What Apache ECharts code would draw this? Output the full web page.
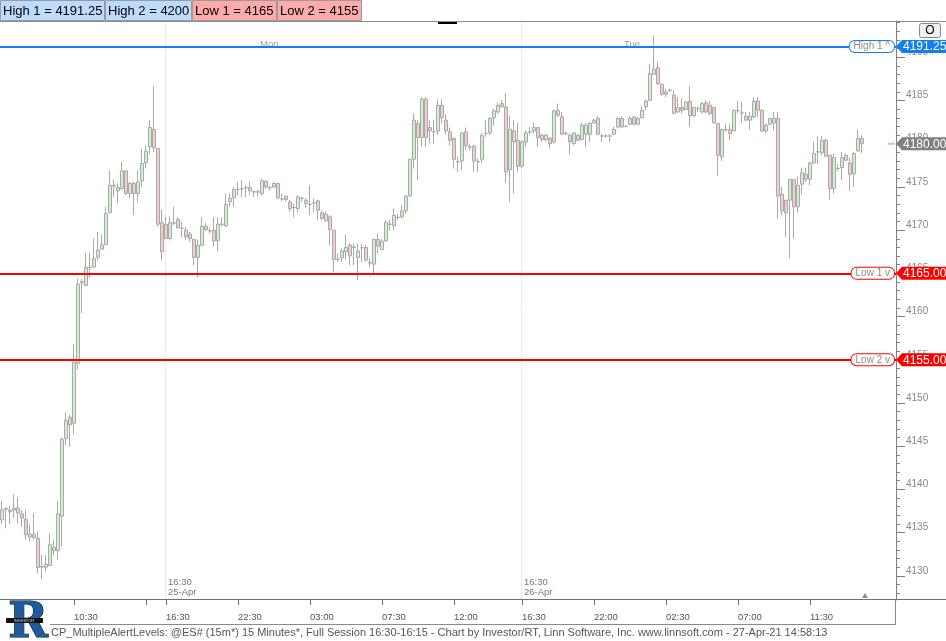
<!DOCTYPE html>
<html><head><meta charset="utf-8">
<script src="https://cdn.jsdelivr.net/npm/echarts@6/dist/echarts.min.js"></script>
<style>html,body{margin:0;padding:0;background:#fff}#c{width:946px;height:641px}</style>
</head><body><div id="c"></div>
<script>
// ---- data (15-minute bars, ES) ----
const opens = [4136.47,4137.70,4137.60,4137.60,4137.83,4137.17,4136.55,4134.47,4134.80,4134.36,
4131.00,4131.00,4131.20,4133.30,4132.90,4136.90,4145.90,4148.35,4147.65,4154.60,
4163.90,4163.60,4165.65,4165.75,4166.85,4167.80,4168.34,4172.04,4175.09,4174.93,
4174.82,4176.86,4174.24,4175.40,4174.24,4175.70,4177.78,4179.63,4181.64,4179.44,
4170.85,4170.65,4169.03,4170.80,4171.23,4170.20,4170.00,4169.53,4168.92,4166.84,
4168.26,4170.46,4169.92,4170.00,4168.76,4170.65,4170.50,4173.30,4173.74,4174.70,
4174.77,4174.90,4174.93,4174.40,4174.45,4174.24,4175.66,4174.93,4175.00,4175.40,
4173.60,4173.93,4173.27,4172.62,4172.50,4173.66,4173.47,4172.97,4173.15,4173.39,
4172.00,4171.08,4171.54,4170.00,4166.65,4166.80,4167.49,4168.26,4168.00,4166.84,
4167.97,4167.99,4166.22,4166.07,4168.92,4167.76,4168.76,4170.65,4170.50,4171.46,
4171.54,4172.23,4173.97,4178.20,4182.33,4180.71,4185.14,4181.87,4181.37,4181.48,
4184.45,4182.72,4181.37,4180.60,4177.90,4178.01,4181.37,4179.63,4179.71,4177.90,
4178.20,4181.17,4181.25,4182.99,4183.68,4184.64,4184.26,4177.00,4181.48,4180.40,
4177.40,4180.21,4181.35,4181.48,4181.87,4180.98,4180.48,4180.60,4180.21,4183.87,
4183.10,4181.17,4180.98,4180.02,4180.98,4180.48,4181.10,4181.10,4182.41,4182.91,
4180.88,4180.90,4180.88,4181.10,4181.94,4182.91,4182.02,4182.25,4183.10,4182.25,
4183.02,4184.26,4185.03,4188.03,4188.80,4186.88,4185.72,4186.18,4185.60,4183.68,
4184.18,4183.95,4184.91,4183.22,4184.06,4183.68,4184.72,4184.45,4184.18,4182.33,
4178.47,4181.64,4181.64,4181.48,4183.80,4183.56,4183.18,4182.72,4183.10,4184.95,
4183.87,4181.48,4182.25,4182.41,4182.91,4174.16,4173.47,4173.47,4175.85,4172.70,
4175.32,4176.47,4175.90,4177.78,4179.05,4178.94,4180.40,4178.67,4174.81,4177.13,
4177.24,4178.67,4177.78,4176.55,4179.17,4180.60];
const closes = [4137.63,4137.80,4137.40,4137.80,4137.25,4136.67,4134.74,4134.82,4134.45,4130.96,
4131.07,4131.35,4133.60,4132.90,4137.17,4145.80,4148.00,4147.46,4154.70,4163.76,
4164.05,4165.70,4165.70,4166.70,4167.70,4168.30,4171.93,4175.20,4175.20,4174.55,
4176.86,4174.24,4175.40,4174.24,4175.59,4177.71,4179.13,4181.87,4179.52,4170.69,
4167.50,4169.03,4170.85,4170.85,4170.27,4170.22,4169.23,4169.03,4166.84,4168.26,
4170.46,4170.07,4169.90,4168.76,4170.69,4170.70,4172.97,4173.66,4174.70,4174.72,
4174.80,4174.92,4174.55,4174.45,4174.40,4175.70,4175.00,4174.90,4175.40,4173.74,
4173.62,4173.54,4172.50,4172.60,4173.85,4173.70,4173.08,4172.95,4173.17,4172.31,
4171.35,4171.81,4170.07,4166.60,4166.62,4167.60,4167.99,4167.03,4168.07,4167.60,
4167.95,4166.53,4166.20,4168.92,4168.15,4168.73,4170.88,4170.70,4171.73,4171.50,
4172.19,4173.93,4178.20,4182.72,4180.71,4185.14,4180.71,4181.48,4181.35,4184.45,
4183.02,4181.48,4180.40,4178.20,4177.92,4181.25,4179.75,4179.60,4178.01,4177.92,
4180.98,4181.20,4182.91,4183.80,4184.45,4184.26,4176.74,4181.64,4180.21,4177.40,
4180.21,4181.25,4181.37,4181.87,4180.71,4180.48,4180.98,4180.02,4183.80,4183.30,
4181.10,4181.20,4180.21,4181.25,4180.40,4182.14,4182.14,4182.33,4182.72,4181.10,
4180.90,4180.88,4180.90,4181.64,4182.91,4181.94,4182.00,4182.91,4182.25,4182.91,
4183.87,4184.95,4188.11,4188.61,4186.95,4185.72,4185.99,4186.20,4183.49,4184.18,
4183.87,4184.83,4183.22,4184.18,4184.08,4184.64,4183.68,4183.49,4182.41,4178.67,
4181.64,4181.60,4181.17,4183.87,4183.82,4183.54,4182.72,4183.18,4184.91,4183.87,
4181.48,4182.14,4182.91,4182.91,4173.97,4172.23,4172.00,4175.85,4172.70,4175.20,
4176.63,4175.90,4177.78,4178.86,4179.07,4180.40,4178.55,4174.81,4178.40,4177.15,
4178.40,4178.09,4176.47,4178.86,4180.60,4180.00];
const lows = [4135.98,4135.50,4136.00,4136.70,4136.10,4135.70,4134.20,4134.00,4134.20,4130.30,
4129.60,4130.50,4131.10,4132.40,4131.85,4133.40,4145.10,4144.90,4146.40,4153.90,
4160.40,4163.50,4164.50,4165.60,4166.50,4167.80,4168.34,4171.93,4173.85,4173.08,
4174.63,4174.05,4173.66,4171.73,4173.27,4175.00,4177.13,4178.80,4179.05,4170.38,
4166.50,4169.00,4168.80,4170.60,4170.20,4169.20,4168.90,4168.70,4165.95,4164.53,
4168.10,4169.90,4169.60,4168.10,4167.50,4170.40,4170.40,4172.70,4172.70,4174.00,
4173.85,4173.80,4174.00,4173.85,4173.90,4174.05,4174.80,4174.60,4174.90,4173.60,
4173.40,4173.30,4172.12,4171.50,4172.10,4173.27,4172.60,4171.73,4172.12,4171.15,
4171.15,4170.96,4168.26,4165.18,4166.30,4166.30,4166.53,4165.95,4165.95,4164.20,
4166.30,4166.40,4165.76,4164.99,4167.30,4167.70,4168.65,4170.00,4170.00,4171.15,
4171.35,4171.90,4173.85,4177.13,4175.78,4179.63,4179.63,4180.02,4180.02,4180.98,
4182.33,4181.10,4179.82,4177.13,4176.74,4176.93,4179.25,4179.25,4176.74,4176.74,
4177.70,4180.79,4180.98,4182.14,4183.50,4184.26,4175.47,4173.27,4174.24,4176.74,
4177.13,4179.63,4181.10,4181.17,4179.63,4180.21,4180.21,4179.44,4180.02,4183.10,
4180.98,4181.00,4178.80,4179.82,4180.33,4180.40,4179.56,4180.21,4182.33,4180.98,
4180.21,4180.70,4180.20,4180.98,4181.75,4181.87,4181.94,4182.14,4182.14,4182.14,
4182.91,4183.87,4184.95,4188.03,4186.76,4185.53,4185.41,4185.99,4183.49,4183.56,
4183.49,4183.87,4181.94,4183.10,4183.68,4183.49,4183.49,4183.30,4182.33,4176.28,
4178.01,4181.37,4180.40,4181.48,4183.56,4182.41,4182.72,4181.64,4182.91,4183.10,
4181.37,4181.17,4182.14,4181.56,4171.35,4171.73,4169.22,4166.72,4169.03,4172.00,
4174.16,4175.58,4175.20,4177.63,4177.63,4178.67,4178.47,4173.47,4174.24,4176.86,
4175.78,4178.01,4174.54,4175.00,4179.05,4178.94];
const highs = [4138.67,4137.90,4138.10,4139.40,4139.10,4137.60,4137.60,4135.90,4137.25,4135.10,
4132.40,4132.40,4134.86,4134.20,4138.70,4146.00,4148.90,4148.60,4156.80,4164.40,
4164.40,4167.40,4167.40,4169.00,4169.80,4169.50,4172.70,4176.94,4175.86,4175.40,
4177.90,4176.94,4175.59,4175.59,4176.94,4179.40,4179.75,4182.72,4186.65,4179.44,
4172.40,4171.50,4171.60,4172.70,4171.50,4171.00,4170.40,4169.80,4169.00,4168.92,
4171.50,4170.80,4170.30,4171.50,4171.46,4171.50,4174.20,4174.24,4175.00,4175.60,
4175.78,4175.20,4175.60,4174.60,4174.70,4175.97,4175.78,4175.16,4175.60,4175.50,
4174.24,4174.00,4173.47,4173.08,4174.05,4173.85,4173.66,4175.20,4173.66,4173.47,
4172.23,4172.10,4171.73,4170.00,4167.30,4167.88,4169.50,4168.50,4168.45,4168.45,
4168.45,4168.26,4166.72,4169.03,4169.60,4169.00,4171.15,4171.23,4172.50,4171.90,
4172.90,4174.05,4178.20,4183.50,4182.72,4185.41,4185.41,4182.72,4182.80,4185.14,
4185.14,4183.41,4181.87,4180.71,4178.50,4181.37,4181.87,4180.02,4179.90,4178.30,
4181.17,4182.72,4183.10,4184.06,4184.72,4185.03,4185.87,4183.18,4182.72,4182.41,
4180.40,4181.56,4181.94,4182.41,4181.87,4181.17,4181.17,4180.79,4183.95,4184.64,
4183.68,4181.40,4181.17,4181.37,4181.17,4182.41,4182.41,4182.52,4182.91,4183.18,
4181.17,4181.10,4181.10,4181.94,4183.10,4183.18,4182.14,4183.18,4183.18,4183.10,
4184.33,4185.10,4189.27,4192.43,4189.46,4186.95,4186.38,4186.38,4186.18,4185.41,
4185.22,4184.95,4186.65,4184.26,4184.33,4184.83,4185.03,4184.95,4184.26,4182.33,
4181.75,4182.33,4182.33,4183.95,4184.95,4184.83,4183.68,4183.68,4185.41,4185.41,
4183.95,4182.33,4182.91,4183.68,4183.68,4175.00,4173.47,4175.85,4175.85,4176.20,
4177.24,4177.24,4177.90,4180.21,4180.86,4180.86,4180.60,4178.67,4178.86,4177.70,
4179.05,4178.86,4178.40,4179.05,4181.64,4180.98];

const alertNames = ['High 1', 'High 2', 'Low 1', 'Low 2'];
const alertValues = [4191.25, 4200, 4165, 4155];
const lastPrice = 4180.00;

// session segments: [first bar time, number of slots]
const sessions = [['2021-04-23 06:00', 41], ['2021-04-25 18:00', 89], ['2021-04-26 16:30', 2], ['2021-04-26 18:00', 92]];
const xTickCats = ['04-23 10:30','04-23 15:00','04-25 18:00','04-25 22:30','04-26 03:00','04-26 07:30','04-26 12:00','04-26 16:30','04-26 22:00','04-27 02:30','04-27 07:00','04-27 11:30'];
const xTickText = ['10:30','','16:30','22:30','03:00','07:30','12:00','16:30','22:00','02:30','07:00','11:30'];
const sessionCats = ['04-25 18:00', '04-26 16:30'];
const sessionText = ['16:30\n25-Apr', '16:30\n26-Apr'];
const dayCats = ['04-26 00:00', '04-27 00:00'];
const dayText = ['Mon', 'Tue'];
const yTickLabels = [4130, 4135, 4140, 4145, 4150, 4155, 4160, 4165, 4170, 4175, 4180, 4185, 4190];
const footerText = 'CP_MultipleAlertLevels: @ES# (15m*) 15 Minutes*, Full Session 16:30-16:15 - Chart by Investor/RT, Linn Software, Inc. www.linnsoft.com - 27-Apr-21 14:58:13';

// ---- build ----
const pad = n => (n < 10 ? '0' : '') + n;
function buildCats() {
  const out = [];
  for (const [s, n] of sessions) {
    const [d, t] = s.split(' ');
    const [Y, M, D] = d.split('-').map(Number);
    const [h, m] = t.split(':').map(Number);
    const base = Date.UTC(Y, M - 1, D, h, m);
    for (let i = 0; i < n; i++) {
      const dt = new Date(base + i * 900000);
      out.push(pad(dt.getUTCMonth() + 1) + '-' + pad(dt.getUTCDate()) + ' ' + pad(dt.getUTCHours()) + ':' + pad(dt.getUTCMinutes()));
    }
  }
  return out;
}
const cats = buildCats();
const tickLabelMap = {};
xTickCats.forEach((c, i) => tickLabelMap[c] = xTickText[i]);
const tickIdx = new Set(xTickCats.map(c => cats.indexOf(c)));
const candleData = opens.map((o, i) => [o, closes[i], lows[i], highs[i]]);

const yMin = 4127.2, yMax = 4194.2;
const minorTicks = [];
for (let v = Math.ceil(yMin); v <= yMax; v++) minorTicks.push(v);

const FONT = 'Liberation Sans';
const BLUE = '#127ff0', RED = '#ff0000';
const levelColor = name => name.startsWith('High') ? BLUE : RED;

const chart = echarts.init(document.getElementById('c'), null, { renderer: 'canvas' });
const option = {
  animation: false,
  textStyle: { fontFamily: FONT },
  grid: { left: -1, right: 50, top: 21, bottom: 41 },
  xAxis: {
    type: 'category', data: cats, boundaryGap: true,
    axisLine: { show: false },
    axisTick: { show: true, alignWithLabel: true, interval: i => tickIdx.has(i), length: 5, lineStyle: { color: '#707070' } },
    axisLabel: { interval: i => tickIdx.has(i), formatter: v => tickLabelMap[v] || '', align: 'left', margin: 12, fontSize: 9.5, color: '#555', fontFamily: FONT },
    splitLine: { show: false }
  },
  yAxis: [
    { type: 'value', min: yMin, max: yMax, position: 'right', scale: true,
      axisLine: { show: true, lineStyle: { color: '#808080' } },
      axisTick: { show: true, customValues: minorTicks, length: 4, lineStyle: { color: '#808080' } },
      axisLabel: { show: false }, splitLine: { show: false } },
    { type: 'value', min: yMin, max: yMax, position: 'right', scale: true,
      axisLine: { show: false },
      axisTick: { show: true, customValues: yTickLabels, length: 9, lineStyle: { color: '#808080' } },
      axisLabel: { customValues: yTickLabels, formatter: v => String(v), margin: 10, color: '#888', fontSize: 10, fontFamily: FONT, verticalAlign: 'bottom', lineHeight: 10 },
      splitLine: { show: false } }
  ],
  series: [{
    type: 'candlestick', data: candleData, barWidth: 3, z: 3,
    itemStyle: { color: '#ccf2cc', color0: '#f5cccc', borderColor: '#a9a9a9', borderColor0: '#a9a9a9', borderColorDoji: '#a9a9a9', borderWidth: 1 },
    markLine: {
      silent: true, symbol: ['none', 'none'], animation: false, label: { show: false },
      data: alertValues.map((v, i) => ({ v, name: alertNames[i] })).filter(o => o.v >= yMin && o.v <= yMax)
        .map(o => ({ yAxis: o.v, lineStyle: { color: levelColor(o.name), width: 2, type: 'solid' } }))
    }
  }]
};
chart.setOption(option);

// ---- overlays positioned through the chart's scales ----
const px = c => chart.convertToPixel({ xAxisIndex: 0 }, c);
const py = v => chart.convertToPixel({ yAxisIndex: 0 }, v);
const g = [];
const plotTop = py(yMax), plotBottom = py(yMin);

// session separator lines & labels
sessionCats.forEach((c, i) => {
  const x = Math.round(px(c)) - 0.5;
  g.push({ type: 'line', z: 0, shape: { x1: x, y1: plotTop, x2: x, y2: plotBottom }, style: { stroke: '#ebebeb', lineWidth: 1 } });
  g.push({ type: 'text', z: 5, x: x + 2.5, y: plotBottom - 23, style: { text: sessionText[i], fill: '#777', fontSize: 9.5, fontFamily: FONT, lineHeight: 10 } });
});
dayCats.forEach((c, i) => {
  g.push({ type: 'text', z: 1, x: px(c) - 2, y: plotTop + 18, style: { text: dayText[i], fill: '#999', fontSize: 9.5, fontFamily: FONT } });
});

// header boxes
let hx = 0;
const boxW = [104, 86, 84, 84];
alertNames.forEach((n, i) => {
  const fill = n.startsWith('High') ? '#bddcfd' : '#fdaaaa';
  g.push({ type: 'rect', z: 10, shape: { x: hx + 0.5, y: 0.5, width: boxW[i], height: 20 }, style: { fill, stroke: '#9a9a9a', lineWidth: 1 } });
  g.push({ type: 'text', z: 11, x: hx + 3, y: 11, style: { text: n + ' = ' + alertValues[i], fill: '#000', fontSize: 13, fontFamily: FONT, verticalAlign: 'middle' } });
  hx += boxW[i] + 1;
});
g.push({ type: 'line', z: 10, shape: { x1: 0, y1: 21.5, x2: 946, y2: 21.5 }, style: { stroke: '#8a8a8a', lineWidth: 1 } });
g.push({ type: 'rect', z: 10, shape: { x: 438, y: 22, width: 19, height: 2 }, style: { fill: '#000' } });
g.push({ type: 'rect', z: 10, shape: { x: 919.5, y: 23.5, width: 21, height: 14, r: 2 }, style: { fill: '#f0f0f0', stroke: '#888', lineWidth: 1 } });
g.push({ type: 'text', z: 11, x: 930, y: 31, style: { text: 'O', fill: '#000', fontSize: 12, fontFamily: FONT, align: 'center', verticalAlign: 'middle' } });

// alert labels on lines + right badges
alertValues.forEach((v, i) => {
  if (v < yMin || v > yMax) return;
  const y = py(v), col = levelColor(alertNames[i]);
  const arrow = alertNames[i].startsWith('High') ? '^' : 'v';
  g.push({ type: 'text', z: 12, x: 894, y: y, style: { text: alertNames[i] + ' ' + arrow, fill: '#8a8a8a', fontSize: 10, fontFamily: FONT, align: 'right', verticalAlign: 'middle', backgroundColor: '#fff', borderColor: col, borderWidth: 1, borderRadius: 5, padding: [1, 4, 0, 4] } });
  g.push({ type: 'polygon', z: 12, shape: { points: [[896, y], [902, y - 6.5], [946, y - 6.5], [946, y + 6.5], [902, y + 6.5]] }, style: { fill: col } });
  g.push({ type: 'text', z: 13, x: 903, y: y + 0.5, style: { text: v.toFixed(2), fill: '#fff', fontSize: 12, fontFamily: FONT, verticalAlign: 'middle' } });
});
// last price badge
{
  const y = py(lastPrice);
  g.push({ type: 'line', z: 12, shape: { x1: 888, y1: y, x2: 895, y2: y }, style: { stroke: '#98e898', lineWidth: 2 } });
  g.push({ type: 'polygon', z: 12, shape: { points: [[896, y], [902, y - 6.5], [946, y - 6.5], [946, y + 6.5], [902, y + 6.5]] }, style: { fill: '#808080' } });
  g.push({ type: 'text', z: 13, x: 903, y: y + 0.5, style: { text: lastPrice.toFixed(2), fill: '#fff', fontSize: 12, fontFamily: FONT, verticalAlign: 'middle' } });
}
// current bar marker
{
  const x = px(cats[opens.length]) - 1;
  g.push({ type: 'polygon', z: 5, shape: { points: [[x - 3, plotBottom - 2], [x + 3, plotBottom - 2], [x, plotBottom - 7]] }, style: { fill: '#909090' } });
}
// bottom frame
g.push({ type: 'line', z: 10, shape: { x1: 0, y1: plotBottom - 0.5, x2: 946, y2: plotBottom - 0.5 }, style: { stroke: '#707070', lineWidth: 1 } });
g.push({ type: 'line', z: 10, shape: { x1: 50, y1: 624.5, x2: 896, y2: 624.5 }, style: { stroke: '#8a8a8a', lineWidth: 1 } });
g.push({ type: 'line', z: 10, shape: { x1: 895.5, y1: plotBottom, x2: 895.5, y2: 625 }, style: { stroke: '#8a8a8a', lineWidth: 1 } });
// footer text
g.push({ type: 'text', z: 10, x: 51, y: 633, style: { text: footerText, fill: '#555', fontSize: 11, fontFamily: FONT, verticalAlign: 'middle' } });
// logo
g.push({ type: 'text', z: 10, x: 8, y: 601, style: { text: 'R', fill: '#1d5c9e', stroke: '#000', lineWidth: 1, fontSize: 48, fontWeight: 'bold', fontFamily: 'DejaVu Serif' } });
g.push({ type: 'rect', z: 11, shape: { x: 6, y: 618, width: 37, height: 5 }, style: { fill: '#111' } });
g.push({ type: 'text', z: 12, x: 24, y: 620.5, style: { text: 'INVESTOR', fill: '#ddd', fontSize: 4, fontFamily: FONT, align: 'center', verticalAlign: 'middle' } });

chart.setOption({ graphic: g });
</script></body></html>
